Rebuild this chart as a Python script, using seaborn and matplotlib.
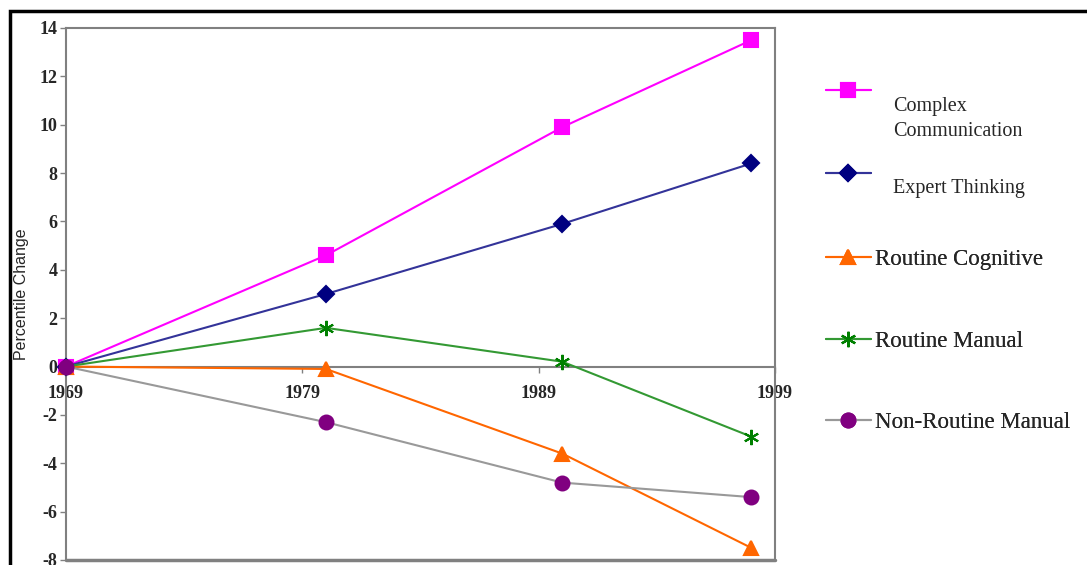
import matplotlib
matplotlib.use("Agg")
import matplotlib.pyplot as plt
import seaborn as sns
import pandas as pd
from matplotlib.patches import Rectangle

years = [1969, 1980, 1990, 1998]
complex_comm = [0, 4.6, 9.9, 13.5]
expert_thinking = [0, 3.0, 5.9, 8.4]
routine_cognitive = [0, -0.1, -3.6, -7.5]
routine_manual = [0, 1.6, 0.2, -2.9]
nonroutine_manual = [0, -2.3, -4.8, -5.4]

series_names = ["Complex\nCommunication", "Expert Thinking", "Routine Cognitive",
                "Routine Manual", "Non-Routine Manual"]
series_values = [complex_comm, expert_thinking, routine_cognitive, routine_manual, nonroutine_manual]
x_ticks = [1969, 1979, 1989, 1999]
y_ticks = list(range(-8, 15, 2))

line_colors = ["#FF00FF", "#333399", "#FF6600", "#339933", "#999999"]
marker_colors = ["#FF00FF", "#000080", "#FF6600", "#008000", "#800080"]
markers = ["s", "D", "^", (6, 2, 0), "o"]
msizes = [10, 8, 10, 11, 10]

sns.set_theme(style="white")
plt.rcParams["font.family"] = ["Liberation Serif", "DejaVu Serif"]

fig = plt.figure(figsize=(10.87, 5.65), dpi=100)
ax = fig.add_axes([66/1087, 1-560/565, (775-66)/1087, (560-28)/565])

handles = []
for name, vals, lc, mc, mk, ms in zip(series_names, series_values, line_colors,
                                        marker_colors, markers, msizes):
    df = pd.DataFrame({"year": years, "value": vals})
    sns.lineplot(data=df, x="year", y="value", ax=ax, color=lc, linewidth=1.5,
                 marker=mk, markersize=ms, markerfacecolor=mc, markeredgecolor=mc,
                 markeredgewidth=1.5, clip_on=False, zorder=3)
    handles.append(ax.lines[-1])

ax.set_xlim(1969, 1999)
ax.set_ylim(-8, 14)
ax.set_xticks(x_ticks)
ax.set_xticklabels([str(t) for t in x_ticks])
ax.set_yticks(y_ticks)
ax.set_yticklabels([str(t) for t in y_ticks])
ax.set_xlabel("")
ax.set_ylabel("Percentile Change", family=["Liberation Sans"], fontsize=11.5, labelpad=8)

for s in ["left", "right", "top", "bottom"]:
    ax.spines[s].set_color("#808080")
    ax.spines[s].set_linewidth(1.5)
ax.spines["bottom"].set_position(("data", 0))
ax.axhline(-8, color="#808080", linewidth=2.5, clip_on=False, zorder=1)

ax.tick_params(axis="both", direction="out", length=4, width=1, color="#808080",
               labelsize=13, pad=2)
ax.tick_params(axis="x", pad=9)
ax.tick_params(axis="y", left=True)
ax.tick_params(axis="x", bottom=True)
for lab in ax.get_xticklabels() + ax.get_yticklabels():
    lab.set_fontweight("bold")

# legend: one entry per row, placed at the reference rows
row_y = [93, 176, 259, 341, 422]
leg_fs = 16.5
for i, (h, name, y) in enumerate(zip(handles, series_names, row_y)):
    lab = name if i >= 2 else ""
    lg = fig.legend(handles=[h], labels=[lab], loc="center left",
                    bbox_to_anchor=(826/1087, 1-y/565), frameon=False,
                    fontsize=leg_fs, handlelength=1.95, handletextpad=0.2,
                    borderaxespad=0, borderpad=0)
    fig.add_artist(lg)

fig.text(893/1087, 1-119/565, series_names[0], fontsize=14.5, va="center",
         ha="left", linespacing=1.45)
fig.text(893/1087, 1-189/565, series_names[1], fontsize=14.5, va="center",
         ha="left")

fig.patches.append(Rectangle((10/1087, -0.1), 2, 1.1 - 11/565,
                             transform=fig.transFigure, fill=False,
                             edgecolor="black", linewidth=2.5))

fig.savefig("out.png", dpi=100)
